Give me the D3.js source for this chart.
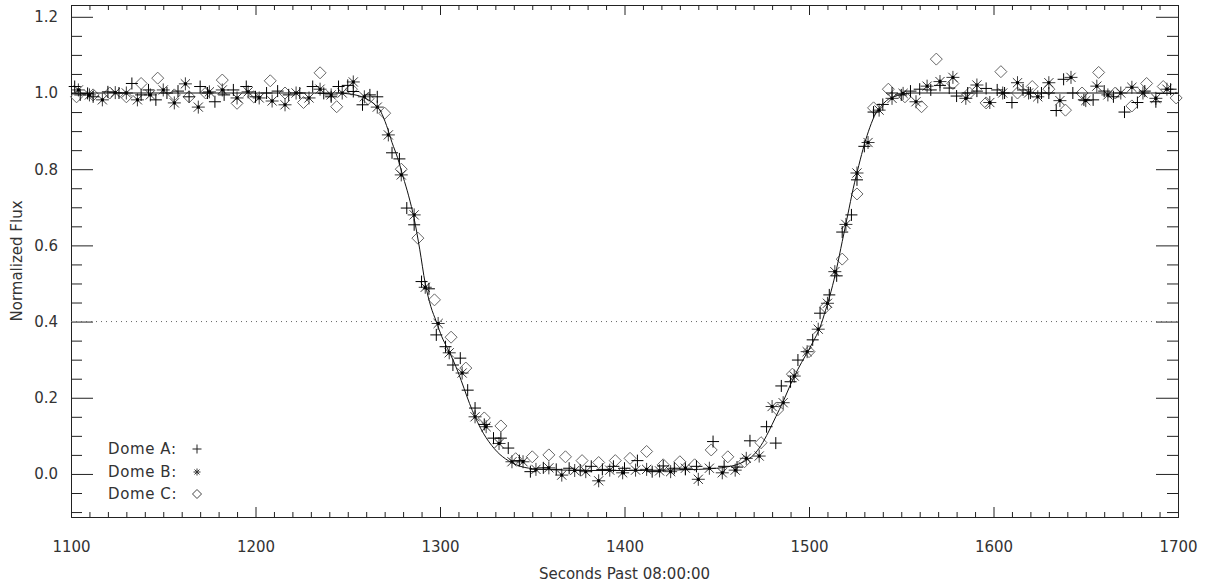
<!DOCTYPE html>
<html><head><meta charset="utf-8">
<script src="https://cdn.jsdelivr.net/npm/d3@7/dist/d3.min.js"></script>
<style>
body{margin:0;background:#fff;}
text{font-family:"DejaVu Sans",sans-serif;}
</style>
</head><body>
<svg id="chart" width="1213" height="582"></svg>
<script>
// ---------------- data ----------------
const domeA_t = [1102,1105,1109,1112,1120,1126,1133,1138,1142,1146,1152,1158,1164,1170,1174,1178,1183,1188,1195,1200,1206,1212,1218,1224,1231,1237,1241,1245,1250,1253,1258,1262,1266,1274,1278,1282,1286,1290,1294,1298,1303,1307,1311,1315,1319,1324,1329,1333,1337,1343,1349,1356,1363,1370,1376,1382,1388,1394,1400,1407,1415,1421,1427,1433,1439,1448,1454,1461,1468,1477,1482,1485,1490,1494,1502,1506,1511,1515,1518,1523,1526,1530,1535,1540,1545,1550,1555,1560,1566,1571,1576,1580,1586,1591,1596,1602,1606,1610,1616,1620,1626,1630,1634,1638,1643,1649,1654,1660,1665,1671,1678,1682,1688,1696];
const domeA_v = [1.017,0.995,0.999,0.990,1.003,1.000,1.025,0.995,1.008,0.982,1.000,1.005,0.990,1.017,1.000,0.977,0.995,1.008,1.017,0.990,1.000,1.005,0.995,1.000,1.017,0.999,0.990,1.017,1.020,1.004,0.969,0.995,0.990,0.843,0.827,0.698,0.654,0.505,0.486,0.365,0.334,0.286,0.304,0.220,0.173,0.130,0.094,0.094,0.068,0.035,0.006,0.016,0.012,0.015,0.010,0.020,0.012,0.020,0.015,0.035,0.006,0.021,0.015,0.012,0.020,0.085,0.020,0.018,0.087,0.124,0.081,0.231,0.242,0.299,0.352,0.422,0.470,0.520,0.635,0.680,0.772,0.860,0.950,0.970,1.000,0.995,1.005,1.010,1.008,1.020,1.013,0.992,1.000,1.005,1.012,1.008,1.000,0.975,1.008,1.000,1.000,1.000,0.954,1.036,1.000,0.982,0.982,1.005,0.990,0.950,0.975,1.005,0.977,1.010];

const domeB_t = [1104,1110,1117,1124,1130,1136,1143,1150,1156,1162,1169,1175,1182,1190,1196,1202,1209,1216,1222,1229,1235,1241,1247,1253,1259,1266,1272,1279,1286,1292,1299,1305,1312,1319,1325,1332,1339,1345,1352,1359,1366,1373,1379,1386,1392,1399,1406,1412,1419,1425,1433,1440,1446,1453,1460,1466,1473,1480,1486,1492,1499,1505,1510,1514,1520,1526,1532,1538,1545,1551,1558,1564,1571,1578,1585,1591,1598,1605,1613,1619,1624,1630,1636,1642,1650,1656,1662,1669,1675,1681,1688,1694];
const domeB_v = [1.008,0.995,0.982,1.001,1.000,0.982,0.995,1.008,0.974,1.024,0.963,1.003,1.008,0.987,1.003,0.987,0.979,0.969,1.000,0.987,1.010,0.995,1.000,1.029,0.990,0.963,0.890,0.785,0.680,0.490,0.395,0.318,0.265,0.150,0.124,0.080,0.032,0.032,0.012,0.016,-0.003,0.009,0.006,-0.018,0.010,0.003,0.010,0.012,0.008,0.006,0.015,-0.014,0.015,0.003,0.010,0.041,0.047,0.177,0.187,0.257,0.321,0.380,0.448,0.531,0.655,0.790,0.870,0.955,0.986,0.999,0.977,1.018,1.030,1.041,0.986,1.021,0.975,1.000,1.027,1.000,0.990,1.027,0.980,1.041,0.980,1.018,0.995,1.000,1.015,1.000,0.986,1.010];

const domeC_t = [1103,1112,1121,1130,1138,1147,1156,1164,1173,1182,1190,1199,1208,1216,1226,1235,1244,1252,1261,1270,1279,1288,1297,1306,1314,1324,1333,1341,1350,1359,1368,1377,1386,1395,1403,1412,1421,1430,1438,1447,1456,1465,1474,1483,1491,1500,1509,1518,1526,1535,1543,1552,1561,1569,1578,1587,1596,1604,1613,1621,1630,1639,1648,1657,1666,1675,1683,1692,1699];
const domeC_v = [0.990,0.995,1.000,0.990,1.025,1.039,0.995,0.990,1.000,1.034,0.973,0.990,1.032,1.000,0.975,1.053,0.964,1.010,0.985,0.947,0.800,0.619,0.457,0.359,0.278,0.147,0.126,0.040,0.045,0.050,0.045,0.035,0.030,0.035,0.041,0.059,0.024,0.032,0.024,0.063,0.045,0.032,0.082,0.168,0.262,0.321,0.438,0.564,0.735,0.961,1.010,0.990,0.964,1.089,1.025,1.000,0.974,1.056,1.000,1.017,1.010,0.955,1.000,1.054,1.000,0.966,1.025,1.017,0.987];

const fit_t = [1100,1245,1250,1255,1260,1265,1268,1271,1274,1277,1280,1283,1286,1289,1292,1295,1298,1301,1304,1307,1310,1313,1316,1319,1322,1325,1328,1331,1334,1337,1340,1343,1346,1350,1360,1370,1380,1400,1420,1440,1450,1455,1460,1465,1470,1474,1478,1482,1486,1490,1494,1498,1502,1506,1509,1512,1515,1518,1521,1524,1527,1530,1533,1536,1539,1542,1546,1550,1555,1700];
const fit_v = [1.000,1.000,0.998,0.994,0.985,0.968,0.950,0.915,0.870,0.830,0.780,0.730,0.670,0.590,0.500,0.440,0.400,0.360,0.330,0.300,0.265,0.225,0.185,0.150,0.120,0.095,0.075,0.058,0.045,0.035,0.027,0.021,0.017,0.014,0.011,0.010,0.009,0.009,0.010,0.012,0.015,0.018,0.023,0.033,0.050,0.075,0.110,0.150,0.190,0.235,0.275,0.310,0.345,0.385,0.430,0.480,0.540,0.610,0.680,0.750,0.810,0.865,0.910,0.945,0.965,0.980,0.990,0.996,1.000,1.000];

const xMajorTicks = [1100,1200,1300,1400,1500,1600,1700];
const yMajorTicks = [0.0,0.2,0.4,0.6,0.8,1.0,1.2];
const refLevel = 0.4;
const legendLabels = ["Dome A:","Dome B:","Dome C:"];
const xTitle = "Seconds Past 08:00:00";
const yTitle = "Normalized Flux";

// ---------------- drawing ----------------
const svg = d3.select("#chart");
const L=71, R=1178, T=5, B=517;
const x = d3.scaleLinear().domain([1100,1700]).range([L,R]);
const y = d3.scaleLinear().domain([-0.113,1.231]).range([B,T]);

const xMinor = d3.range(1100,1701,10).filter(v=>v%100!==0);
const yMinor = d3.range(-0.10,1.2301,0.05).map(v=>+v.toFixed(2)).filter(v=>Math.abs(Math.round(v*5)-v*5)>1e-6);

function styleAxis(g){
  g.select(".domain").attr("stroke","#222").attr("stroke-width",1);
  g.selectAll(".tick line").attr("stroke","#222").attr("stroke-width",1);
  g.selectAll(".tick text").attr("fill","#333").attr("font-size",15).attr("font-family","DejaVu Sans, sans-serif");
}
// bottom
svg.append("g").attr("transform",`translate(0,${B})`)
  .call(d3.axisBottom(x).tickValues(xMajorTicks).tickSizeInner(-10).tickSizeOuter(0).tickPadding(24).tickFormat(d3.format("d")))
  .call(styleAxis);
svg.append("g").attr("transform",`translate(0,${B})`)
  .call(d3.axisBottom(x).tickValues(xMinor).tickSizeInner(-5).tickSizeOuter(0).tickFormat(""))
  .call(styleAxis);
// top
svg.append("g").attr("transform",`translate(0,${T})`)
  .call(d3.axisTop(x).tickValues(xMajorTicks).tickSizeInner(-10).tickSizeOuter(0).tickFormat(""))
  .call(styleAxis);
svg.append("g").attr("transform",`translate(0,${T})`)
  .call(d3.axisTop(x).tickValues(xMinor).tickSizeInner(-5).tickSizeOuter(0).tickFormat(""))
  .call(styleAxis);
// left
svg.append("g").attr("transform",`translate(${L},0)`)
  .call(d3.axisLeft(y).tickValues(yMajorTicks).tickSizeInner(-22).tickSizeOuter(0).tickPadding(13).tickFormat(d3.format(".1f")))
  .call(styleAxis);
svg.append("g").attr("transform",`translate(${L},0)`)
  .call(d3.axisLeft(y).tickValues(yMinor).tickSizeInner(-11).tickSizeOuter(0).tickFormat(""))
  .call(styleAxis);
// right
svg.append("g").attr("transform",`translate(${R},0)`)
  .call(d3.axisRight(y).tickValues(yMajorTicks).tickSizeInner(-22).tickSizeOuter(0).tickFormat(""))
  .call(styleAxis);
svg.append("g").attr("transform",`translate(${R},0)`)
  .call(d3.axisRight(y).tickValues(yMinor).tickSizeInner(-11).tickSizeOuter(0).tickFormat(""))
  .call(styleAxis);

// titles
svg.append("text").attr("x",(L+R)/2).attr("y",579).attr("text-anchor","middle")
  .attr("font-size",15).attr("fill","#333").text(xTitle);
svg.append("text").attr("transform",`translate(22,${(T+B)/2}) rotate(-90)`).attr("text-anchor","middle")
  .attr("font-size",15).attr("fill","#333").text(yTitle);

// reference dotted line
svg.append("line").attr("x1",L).attr("x2",R).attr("y1",y(refLevel)).attr("y2",y(refLevel))
  .attr("stroke","#666").attr("stroke-width",1).attr("stroke-dasharray","1,4");

// markers
const plusPath = s => `M${-s},0H${s}M0,${-s}V${s}`;
const astPath = s => { const d=s*0.707; return `M${-s},0H${s}M0,${-s}V${s}M${-d},${-d}L${d},${d}M${-d},${d}L${d},${-d}`; };
const diaPath = s => `M0,${-s}L${s},0L0,${s}L${-s},0Z`;

const gC = svg.append("g");
gC.selectAll("path").data(d3.zip(domeC_t,domeC_v)).join("path")
  .attr("transform",d=>`translate(${x(d[0])},${y(d[1])})`)
  .attr("d",diaPath(6)).attr("fill","none").attr("stroke","#666").attr("stroke-width",1);

const gB = svg.append("g");
gB.selectAll("path").data(d3.zip(domeB_t,domeB_v)).join("path")
  .attr("transform",d=>`translate(${x(d[0])},${y(d[1])})`)
  .attr("d",astPath(6.5)).attr("fill","none").attr("stroke","#3a3a3a").attr("stroke-width",1);
gB.selectAll("rect").data(d3.zip(domeB_t,domeB_v)).join("rect")
  .attr("x",d=>x(d[0])-1.5).attr("y",d=>y(d[1])-1.5).attr("width",3).attr("height",3).attr("fill","#000");

const gA = svg.append("g");
gA.selectAll("path").data(d3.zip(domeA_t,domeA_v)).join("path")
  .attr("transform",d=>`translate(${x(d[0])},${y(d[1])})`)
  .attr("d",plusPath(6)).attr("fill","none").attr("stroke","#000").attr("stroke-width",1);

// fit curve
const line = d3.line().x(d=>x(d[0])).y(d=>y(d[1])).curve(d3.curveMonotoneX);
svg.append("path").datum(d3.zip(fit_t,fit_v)).attr("d",line)
  .attr("fill","none").attr("stroke","#111").attr("stroke-width",1);

// legend
const legY = [449,472,494];
legendLabels.forEach((lab,i)=>{
  svg.append("text").attr("x",108).attr("y",legY[i]+5).attr("font-size",15).attr("letter-spacing",0.6).attr("fill","#333").text(lab);
});
svg.append("path").attr("transform",`translate(197,${legY[0]})`).attr("d",plusPath(4.5)).attr("stroke","#222").attr("fill","none");
svg.append("path").attr("transform",`translate(197,${legY[1]})`).attr("d",astPath(3.5)).attr("stroke","#333").attr("fill","none");
svg.append("path").attr("transform",`translate(197,${legY[2]})`).attr("d",diaPath(4.5)).attr("stroke","#444").attr("fill","none");
</script>
</body></html>
